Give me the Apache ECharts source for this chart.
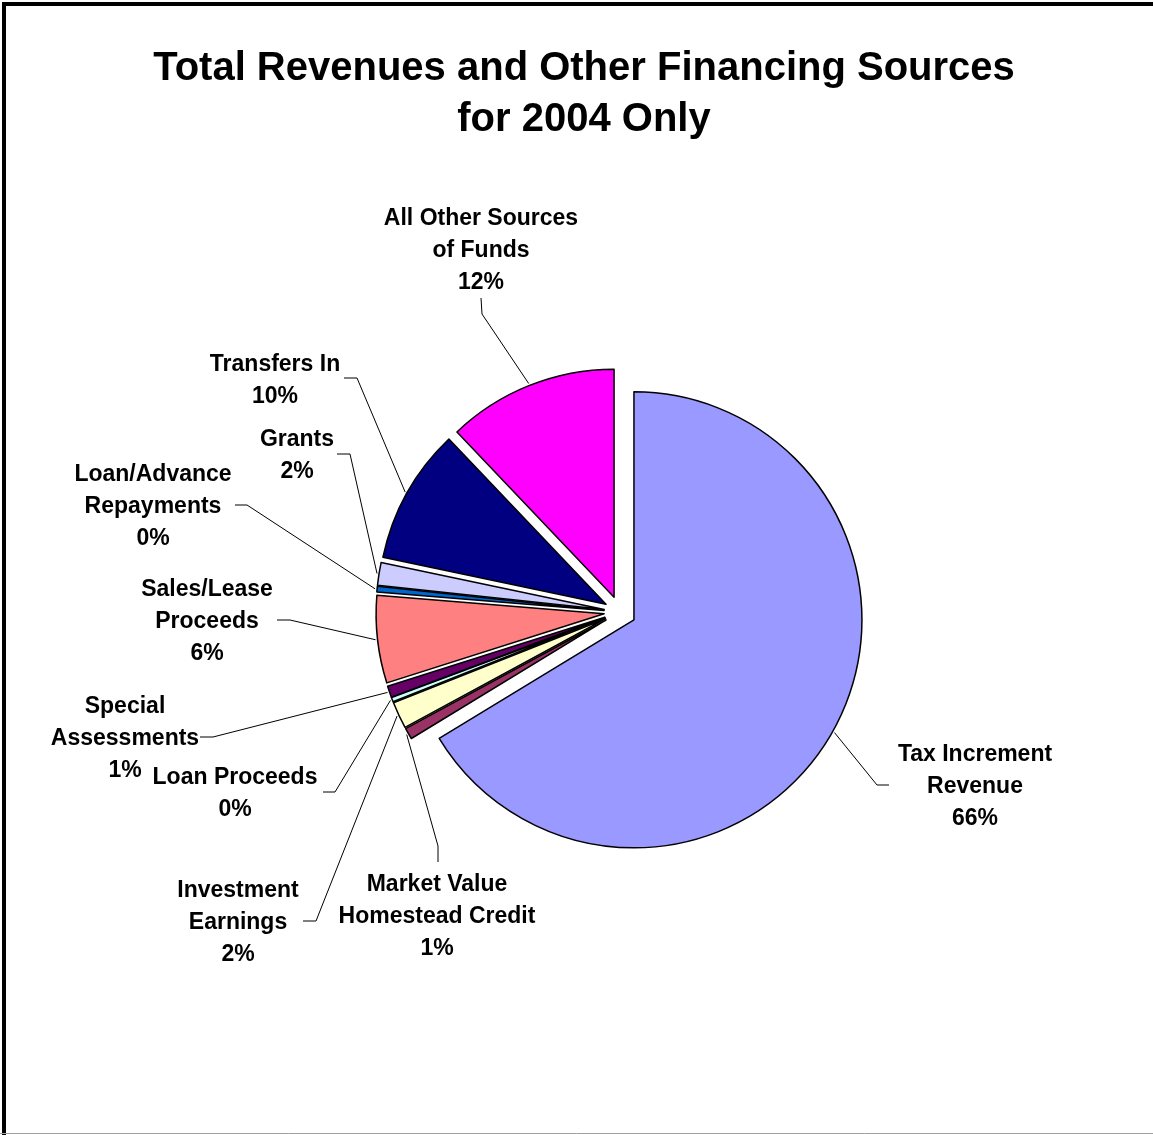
<!DOCTYPE html>
<html>
<head>
<meta charset="utf-8">
<script src="https://cdn.jsdelivr.net/npm/echarts@6/dist/echarts.min.js"></script>
<style>
  html, body { margin: 0; padding: 0; background: #ffffff; }
  #chart { width: 1153px; height: 1135px; }
</style>
</head>
<body>
<div id="chart"></div>
<script>
// Revenue sources, clockwise from 12 o'clock
const categories = [
  'Tax Increment\nRevenue',
  'Market Value\nHomestead Credit',
  'Investment\nEarnings',
  'Loan Proceeds',
  'Special\nAssessments',
  'Sales/Lease\nProceeds',
  'Loan/Advance\nRepayments',
  'Grants',
  'Transfers In',
  'All Other Sources\nof Funds'
];

// Share of total revenues and other financing sources (%)
const shares = [66.3, 0.8, 1.9, 0.3, 0.8, 6.2, 0.4, 1.6, 9.6, 12.1];

const sliceColors = [
  '#9999FF', '#993366', '#FFFFCC', '#CCFFFF', '#660066',
  '#FF8080', '#0066CC', '#CCCCFF', '#000080', '#FF00FF'
];

// Label placement: [textX, textY, elbowX, elbowY, endX, endY]
const labelAnchors = [
  [975, 787, 877, 785, 889, 785],
  [437, 917, 438, 846, 438, 862],
  [238, 923, 316, 921, 303, 921],
  [235, 794, 335, 792, 323, 792],
  [125, 739, 213, 737, 200, 737],
  [207, 622, 290, 620, 277, 620],
  [153, 507, 247, 505, 235, 505],
  [297, 456, 350, 454, 337, 454],
  [275, 381, 357, 378, 344, 378],
  [481, 251, 482, 314, 481, 298]
];

const CENTER = [620, 612];
const RADIUS = 228;
const EXPLODE = 16;

// mid angle of each slice (degrees clockwise from 12 o'clock)
const total = shares.reduce((a, b) => a + b, 0);
const midAngles = [];
let acc = 0;
shares.forEach(v => {
  const span = v / total * 360;
  midAngles.push(acc + span / 2);
  acc += span;
});

// point just outside the exploded slice's rim, at its mid angle
function rimPoint(i) {
  const t = midAngles[i] * Math.PI / 180;
  const r = RADIUS + EXPLODE + 2;
  return [CENTER[0] + r * Math.sin(t), CENTER[1] - r * Math.cos(t)];
}

const chart = echarts.init(document.getElementById('chart'), null, { renderer: 'canvas' });

const FONT = '"Liberation Sans", Arial, sans-serif';

chart.setOption({
  animation: false,
  backgroundColor: '#ffffff',
  title: {
    text: 'Total Revenues and Other Financing Sources\nfor 2004 Only',
    left: 579,
    top: 38,
    textAlign: 'center',
    textStyle: {
      fontFamily: FONT,
      fontWeight: 'bold',
      fontSize: 40,
      lineHeight: 51,
      color: '#000'
    }
  },
  graphic: [
    {
      type: 'rect',
      shape: { x: 4, y: 4, width: 1400, height: 1400 },
      style: { fill: 'none', stroke: '#000', lineWidth: 4 },
      silent: true
    },
    {
      type: 'line',
      shape: { x1: 0, y1: 1133.5, x2: 1153, y2: 1133.5 },
      style: { stroke: '#a0a0a0', lineWidth: 1 },
      silent: true
    }
  ],
  series: [
    {
      // exploded slices
      type: 'pie',
      center: CENTER,
      radius: RADIUS,
      startAngle: 90,
      clockwise: true,
      selectedMode: 'multiple',
      selectedOffset: EXPLODE,
      emphasis: { disabled: true },
      itemStyle: { borderColor: '#000', borderWidth: 1.5 },
      label: { show: false },
      labelLine: { show: false },
      data: categories.map((name, i) => ({
        name: name,
        value: shares[i],
        selected: true,
        itemStyle: { color: sliceColors[i] },
        select: { itemStyle: { color: sliceColors[i], borderColor: '#000', borderWidth: 1.5 } }
      }))
    },
    {
      // category labels with leader lines
      type: 'pie',
      center: CENTER,
      radius: RADIUS,
      startAngle: 90,
      clockwise: true,
      silent: true,
      avoidLabelOverlap: false,
      emphasis: { disabled: true },
      itemStyle: { color: 'rgba(0,0,0,0)', borderWidth: 0 },
      label: {
        show: true,
        position: 'outside',
        fontFamily: FONT,
        fontWeight: 'bold',
        fontSize: 23,
        lineHeight: 32,
        color: '#000',
        align: 'center',
        formatter: p => p.name + '\n' + Math.round(p.percent) + '%'
      },
      labelLine: {
        show: true,
        lineStyle: { color: '#000', width: 1 }
      },
      labelLayout: function (params) {
        const i = params.dataIndex;
        const a = labelAnchors[i];
        return {
          x: a[0],
          y: a[1],
          align: 'center',
          verticalAlign: 'middle',
          labelLinePoints: [rimPoint(i), [a[2], a[3]], [a[4], a[5]]]
        };
      },
      data: categories.map((name, i) => ({ name: name, value: shares[i] }))
    }
  ]
});
</script>
</body>
</html>
